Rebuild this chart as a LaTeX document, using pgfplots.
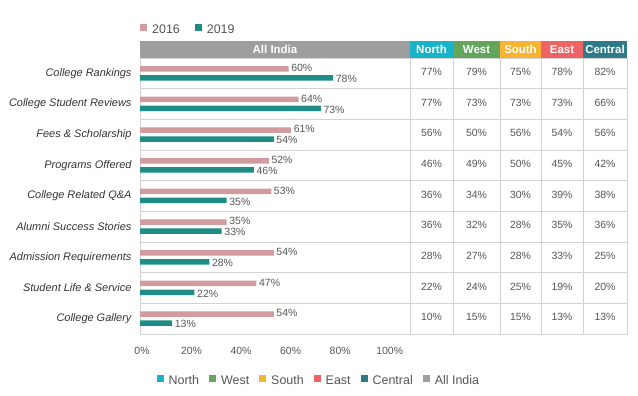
\documentclass[border=0pt]{standalone}
\usepackage{pgfplots}
\pgfplotsset{compat=1.18}
\usepackage{pgfplotstable}
\usepackage{fontspec}
\setmainfont{Liberation Sans}
\definecolor{c16}{HTML}{D29B9D}
\definecolor{c19}{HTML}{1F8D87}
\definecolor{cN}{HTML}{17B4C9}
\definecolor{cW}{HTML}{63A65B}
\definecolor{cS}{HTML}{F8B431}
\definecolor{cE}{HTML}{EE6464}
\definecolor{cC}{HTML}{2E7B88}
\definecolor{cA}{HTML}{9E9E9E}
\definecolor{gridc}{HTML}{D2D2D2}
\definecolor{txt}{HTML}{555555}
\definecolor{lab}{HTML}{333333}

\pgfplotstableread{
y a b
8 60 78
7 64 73
6 61 54
5 52 46
4 53 35
3 35 33
2 54 28
1 47 22
0 54 13
}\bars

\pgfplotstableread{
y n w s e c
8 77 79 75 78 82
7 77 73 73 73 66
6 56 50 56 54 56
5 46 49 50 45 42
4 36 34 30 39 38
3 36 32 28 35 36
2 28 27 28 33 25
1 22 24 25 19 20
0 10 15 15 13 13
}\regions

\begin{document}
\begin{tikzpicture}
\path[use as bounding box] (0,0) rectangle (638bp,396bp);

\begin{axis}[
  at={(140bp,62bp)}, anchor=south west, scale only axis,
  width=270bp, height=276bp,
  xmin=0, xmax=109, ymin=-0.5, ymax=8.5,
  xbar, bar width=5.5bp,
  axis line style={gridc},
  xtick={0,20,...,100},
  xticklabel={\pgfmathprintnumber{\tick}\%},
  xticklabel style={font=\fontsize{10.5}{12}\selectfont, text=txt, yshift=-10bp, xshift=2bp},
  major tick length=0pt, tick style={draw=none},
  ytick={0,...,8},
  yticklabels={College Gallery, Student Life \& Service, Admission Requirements, Alumni Success Stories, College Related Q\&A, Programs Offered, Fees \& Scholarship, College Student Reviews, College Rankings},
  yticklabel style={font=\fontsize{11}{13}\selectfont\itshape, text=lab, xshift=-5bp},
  extra y ticks={0.5,1.5,...,7.5}, extra y tick labels={},
  extra y tick style={grid=major, major grid style={gridc, line width=0.8pt}},
  clip=false,
  point meta=x,
  nodes near coords={\pgfmathprintnumber{\pgfplotspointmeta}\%},
  nodes near coords style={font=\fontsize{10.5}{12}\selectfont, text=txt, anchor=west, inner sep=2.5bp},
  /pgf/number format/assume math mode=true,
  legend style={at={(0,1.101)}, anchor=west, draw=none, fill=none,
    font=\fontsize{12.5}{14}\selectfont, text=txt, inner sep=0pt,
    /tikz/every odd column/.append style={column sep=3bp},
    /tikz/every even column/.append style={column sep=13bp}},
  legend columns=2,
  legend image code/.code={\fill[#1] (0bp,-1bp) rectangle (7bp,6bp);},
]
\addplot[fill=c16, draw=none, bar shift=4.5bp, nodes near coords style={yshift=1bp}] table[x=a, y=y]{\bars};
\addplot[fill=c19, draw=none, bar shift=-4.5bp, nodes near coords style={yshift=-1bp}] table[x=b, y=y]{\bars};
\legend{2016,2019}
\end{axis}

\begin{axis}[
  at={(410bp,62bp)}, anchor=south west, scale only axis,
  width=217bp, height=276bp,
  xmin=0, xmax=217, ymin=-0.5, ymax=8.5,
  axis line style={gridc},
  xtick={43,90,131,173}, xticklabels={},
  ytick={0.5,1.5,...,7.5}, yticklabels={},
  xmajorgrids, ymajorgrids,
  major grid style={gridc, line width=0.8pt},
  major tick length=0pt, tick style={draw=none},
  clip=false,
  point meta=explicit,
  nodes near coords={\pgfmathprintnumber{\pgfplotspointmeta}\%},
  nodes near coords align=center,
  nodes near coords style={font=\fontsize{10.5}{12}\selectfont, text=txt, anchor=center, yshift=1.5bp},
  /pgf/number format/assume math mode=true,
  legend style={at={(-0.42,-0.17)}, anchor=center, draw=none, fill=none,
    font=\fontsize{12.5}{14}\selectfont, text=txt, inner sep=0pt,
    /tikz/every odd column/.append style={column sep=3bp},
    /tikz/every even column/.append style={column sep=8bp}},
  legend columns=6,
  legend image code/.code={\fill[#1] (0bp,-1bp) rectangle (7bp,6bp);},
]
\addlegendimage{fill=cN, draw=none}
\addlegendimage{fill=cW, draw=none}
\addlegendimage{fill=cS, draw=none}
\addlegendimage{fill=cE, draw=none}
\addlegendimage{fill=cC, draw=none}
\addlegendimage{fill=cA, draw=none}
\addplot[draw=none, mark=none, forget plot] table[x expr=21.5, y=y, meta=n]{\regions};
\addplot[draw=none, mark=none, forget plot] table[x expr=66.5, y=y, meta=w]{\regions};
\addplot[draw=none, mark=none, forget plot] table[x expr=110.5, y=y, meta=s]{\regions};
\addplot[draw=none, mark=none, forget plot] table[x expr=152, y=y, meta=e]{\regions};
\addplot[draw=none, mark=none, forget plot] table[x expr=195, y=y, meta=c]{\regions};
\legend{North,West,South,East,Central,All India}
\end{axis}

% header band
\fill[cA] (140bp,338bp) rectangle (410bp,355bp);
\fill[cN] (410bp,338bp) rectangle (453bp,355bp);
\fill[cW] (453bp,338bp) rectangle (500bp,355bp);
\fill[cS] (500bp,338bp) rectangle (541bp,355bp);
\fill[cE] (541bp,338bp) rectangle (583bp,355bp);
\fill[cC] (583bp,338bp) rectangle (627bp,355bp);
\begin{scope}[every node/.style={text=white, font=\fontsize{11.5}{12}\selectfont\bfseries, inner sep=0pt}]
\node at (275bp,346.5bp) {All India};
\node at (431.5bp,346.5bp) {North};
\node at (476.5bp,346.5bp) {West};
\node at (520.5bp,346.5bp) {South};
\node at (562bp,346.5bp) {East};
\node at (605bp,346.5bp) {Central};
\end{scope}
\end{tikzpicture}
\end{document}
